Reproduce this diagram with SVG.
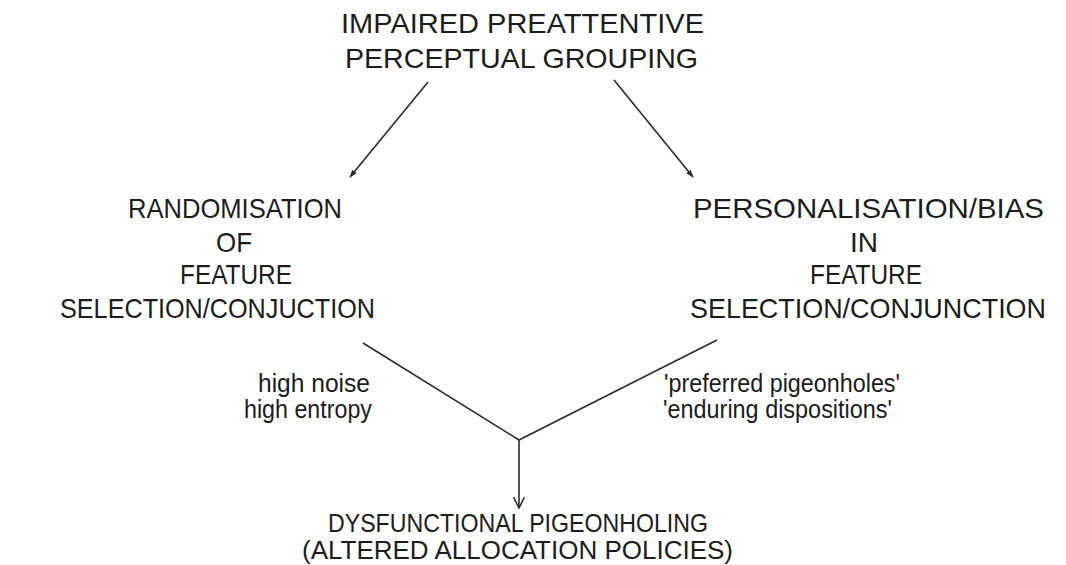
<svg xmlns="http://www.w3.org/2000/svg" width="1066" height="565" viewBox="0 0 1066 565">
  <style>
    .cap { font-family: "Liberation Sans", Arial, sans-serif; font-size: 28px; fill: #1c1c1c; text-anchor: middle; }
    .foot { font-family: "Liberation Sans", Arial, sans-serif; font-size: 26px; fill: #1c1c1c; text-anchor: middle; }
    .lbl { font-family: "Liberation Sans", Arial, sans-serif; font-size: 25px; fill: #1c1c1c; text-anchor: start; }
    .edge { stroke: #2a2a2a; stroke-width: 1.6; fill: none; }
  </style>
  <defs>
    <marker id="head" viewBox="0 0 10 10" refX="9" refY="5" markerWidth="8" markerHeight="8" markerUnits="userSpaceOnUse" orient="auto">
      <path d="M0,1.5 L10,5 L0,8.5 Z" fill="#2a2a2a"/>
    </marker>
    <marker id="openhead" viewBox="0 0 12 12" refX="11" refY="6" markerWidth="13" markerHeight="13" markerUnits="userSpaceOnUse" orient="auto">
      <path d="M1,1 L11,6 L1,11" fill="none" stroke="#2a2a2a" stroke-width="1.4"/>
    </marker>
  </defs>

  <rect width="1066" height="565" fill="#ffffff"/>

  <g id="connectors">
    <line class="edge" x1="428" y1="82" x2="350" y2="177" marker-end="url(#head)"/>
    <line class="edge" x1="614" y1="80" x2="693" y2="177" marker-end="url(#head)"/>
    <line class="edge" x1="363" y1="343" x2="519" y2="440"/>
    <line class="edge" x1="717" y1="340" x2="519" y2="440"/>
    <line class="edge" x1="519" y1="440" x2="519" y2="508" marker-end="url(#openhead)"/>
  </g>

  <g id="node-impaired">
    <text class="cap" x="522.5" y="33" textLength="363" lengthAdjust="spacingAndGlyphs">IMPAIRED PREATTENTIVE</text>
    <text class="cap" x="521.5" y="68" textLength="353" lengthAdjust="spacingAndGlyphs">PERCEPTUAL GROUPING</text>
  </g>

  <g id="node-randomisation">
    <text class="cap" x="235" y="218" textLength="214" lengthAdjust="spacingAndGlyphs">RANDOMISATION</text>
    <text class="cap" x="234" y="252" textLength="36" lengthAdjust="spacingAndGlyphs">OF</text>
    <text class="cap" x="236" y="284" textLength="112" lengthAdjust="spacingAndGlyphs">FEATURE</text>
    <text class="cap" x="217.5" y="318" textLength="315" lengthAdjust="spacingAndGlyphs">SELECTION/CONJUCTION</text>
  </g>

  <g id="node-personalisation">
    <text class="cap" x="868.5" y="218" textLength="351" lengthAdjust="spacingAndGlyphs">PERSONALISATION/BIAS</text>
    <text class="cap" x="864" y="252" textLength="28" lengthAdjust="spacingAndGlyphs">IN</text>
    <text class="cap" x="866" y="284" textLength="112" lengthAdjust="spacingAndGlyphs">FEATURE</text>
    <text class="cap" x="868" y="318" textLength="356" lengthAdjust="spacingAndGlyphs">SELECTION/CONJUNCTION</text>
  </g>

  <g id="label-noise">
    <text class="lbl" x="258" y="392" textLength="112" lengthAdjust="spacingAndGlyphs">high noise</text>
    <text class="lbl" x="244" y="418" textLength="128" lengthAdjust="spacingAndGlyphs">high entropy</text>
  </g>

  <g id="label-pigeonholes">
    <text class="lbl" x="664" y="392" textLength="236" lengthAdjust="spacingAndGlyphs">'preferred pigeonholes'</text>
    <text class="lbl" x="663" y="418" textLength="229" lengthAdjust="spacingAndGlyphs">'enduring dispositions'</text>
  </g>

  <g id="node-dysfunctional">
    <text class="foot" x="518" y="532" textLength="380" lengthAdjust="spacingAndGlyphs">DYSFUNCTIONAL PIGEONHOLING</text>
    <text class="foot" x="517.5" y="559" textLength="431" lengthAdjust="spacingAndGlyphs">(ALTERED ALLOCATION POLICIES)</text>
  </g>
</svg>
